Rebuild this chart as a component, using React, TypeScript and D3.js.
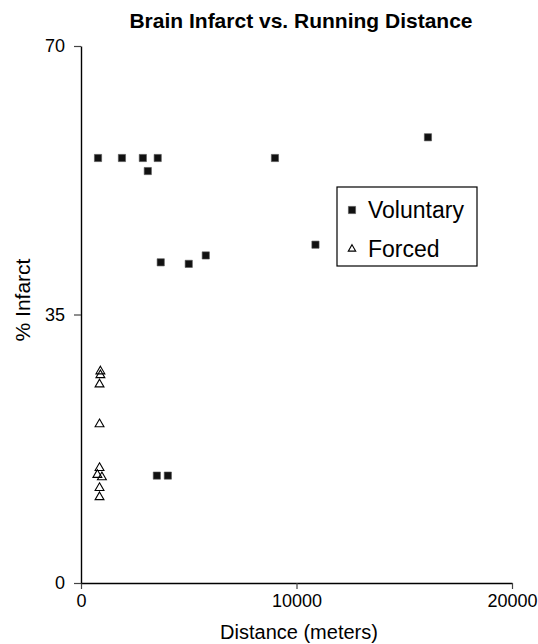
import React, { useEffect, useRef } from 'react';
import * as d3 from 'd3';

const voluntaryDistance = [790, 1900, 2870, 3560, 3100, 9000, 10880, 5790, 5000, 3700, 16100, 3520, 4030];
const voluntaryInfarct = [55.4, 55.4, 55.4, 55.4, 53.7, 55.4, 44.1, 42.7, 41.6, 41.8, 58.1, 14.0, 14.0];

const forcedDistance = [900, 900, 860, 860, 860, 760, 970, 860, 860];
const forcedInfarct = [27.6, 27.1, 25.9, 20.7, 15.0, 14.1, 13.8, 12.4, 11.2];

const xTicks = [0, 10000, 20000];
const yTicks = [0, 35, 70];
const legendLabels = ['Voluntary', 'Forced'];

const W = 538;
const H = 644;
const FONT = '"Liberation Sans", Arial, sans-serif';

export default function App() {
    const svgRef = useRef<SVGSVGElement>(null);
    const margin = { top: 46, right: 26, bottom: 61, left: 81 };

    useEffect(() => {
        const svg = d3.select(svgRef.current);
        svg.selectAll('*').remove();

        const x = d3.scaleLinear().domain([0, 20000]).range([margin.left, W - margin.right]);
        const y = d3.scaleLinear().domain([0, 70]).range([H - margin.bottom, margin.top]);

        // title
        svg.append('text')
            .attr('x', 301)
            .attr('y', 28)
            .attr('text-anchor', 'middle')
            .style('font-family', FONT)
            .style('font-weight', 'bold')
            .style('font-size', '21px')
            .text('Brain Infarct vs. Running Distance');

        // axes
        const xAxis = svg.append('g')
            .attr('transform', `translate(0, ${y(0)})`)
            .call(d3.axisBottom(x).tickValues(xTicks).tickFormat(d3.format('d')).tickSize(6).tickSizeOuter(0).tickPadding(5));
        const yAxis = svg.append('g')
            .attr('transform', `translate(${x(0)}, 0)`)
            .call(d3.axisLeft(y).tickValues(yTicks).tickFormat(d3.format('d')).tickSize(7).tickSizeOuter(0).tickPadding(9));

        [xAxis, yAxis].forEach((g) => {
            g.select('.domain').attr('stroke', '#000').attr('stroke-width', 1.4);
            g.selectAll('.tick line').attr('stroke', '#444').attr('stroke-width', 1.2);
            g.selectAll('.tick text')
                .attr('fill', '#000')
                .style('font-family', FONT)
                .style('font-size', '18px');
        });

        // axis titles
        svg.append('text')
            .attr('x', 299)
            .attr('y', 639)
            .attr('text-anchor', 'middle')
            .style('font-family', FONT)
            .style('font-size', '20px')
            .text('Distance (meters)');
        svg.append('text')
            .attr('transform', `translate(30, 300) rotate(-90)`)
            .attr('text-anchor', 'middle')
            .style('font-family', FONT)
            .style('font-size', '21px')
            .text('% Infarct');

        const square = d3.symbol().type(d3.symbolSquare).size(52);
        const triangle = d3.symbol().type(d3.symbolTriangle).size(34);
        const smallTriangle = d3.symbol().type(d3.symbolTriangle).size(24);

        // voluntary points
        svg.append('g')
            .selectAll('path')
            .data(voluntaryDistance.map((d, i) => [d, voluntaryInfarct[i]]))
            .join('path')
            .attr('d', square)
            .attr('transform', (d) => `translate(${x(d[0])}, ${y(d[1])})`)
            .attr('fill', '#111')
            .attr('stroke', '#555')
            .attr('stroke-width', 0.6);

        // forced points
        svg.append('g')
            .selectAll('path')
            .data(forcedDistance.map((d, i) => [d, forcedInfarct[i]]))
            .join('path')
            .attr('d', triangle)
            .attr('transform', (d) => `translate(${x(d[0])}, ${y(d[1])})`)
            .attr('fill', 'none')
            .attr('stroke', '#000')
            .attr('stroke-width', 1.1);

        // legend
        const legend = svg.append('g').attr('transform', 'translate(337, 187)');
        legend.append('rect')
            .attr('width', 140)
            .attr('height', 79)
            .attr('fill', '#fff')
            .attr('stroke', '#000')
            .attr('stroke-width', 1.2);
        legendLabels.forEach((label, i) => {
            const row = legend.append('g').attr('transform', `translate(0, ${23 + i * 39})`);
            row.append('path')
                .attr('d', i === 0 ? square : smallTriangle)
                .attr('transform', 'translate(15, 0)')
                .attr('fill', i === 0 ? '#111' : 'none')
                .attr('stroke', i === 0 ? '#555' : '#000')
                .attr('stroke-width', i === 0 ? 0.6 : 1.1);
            row.append('text')
                .attr('x', 31)
                .attr('y', 8)
                .style('font-family', FONT)
                .style('font-size', '23px')
                .text(label);
        });
        //eslint-disable-next-line
    }, []);

    return (
        <svg
            ref={svgRef}
            width={W}
            height={H}
            style={{ position: 'absolute', left: 0, top: 0, background: '#fff' }}
        />
    );
}
